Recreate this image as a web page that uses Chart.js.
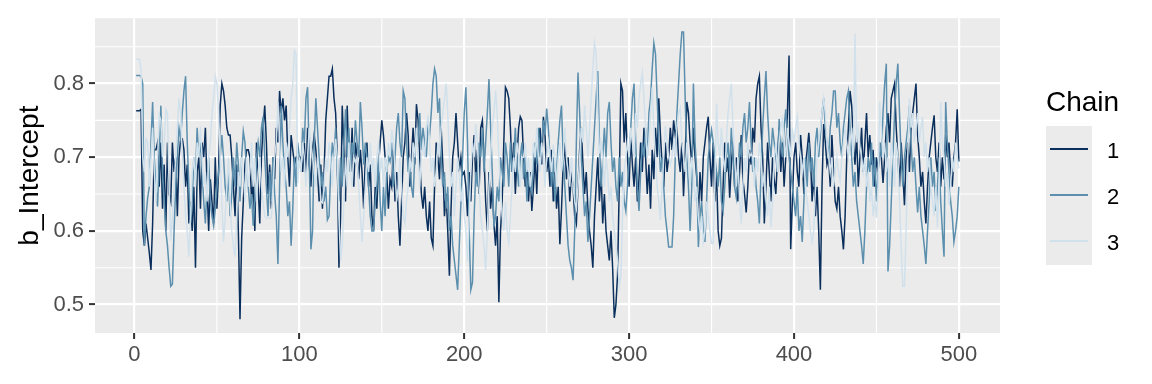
<!DOCTYPE html>
<html>
<head>
<meta charset="utf-8">
<script src="https://cdn.jsdelivr.net/npm/chart.js@4"></script>
<style>
  html, body { margin: 0; padding: 0; background: #ffffff; }
  #wrap { position: relative; width: 1152px; height: 384px; overflow: hidden; font-family: "Liberation Sans", Arial, sans-serif; }
  #c { position: absolute; left: 0; top: 0; }
  .lg { position: absolute; line-height: 1; white-space: nowrap; }
</style>
</head>
<body>
<div id="wrap">
  <canvas id="c" width="1152" height="384"></canvas>
  <div class="lg" style="left:1046px; top:88px; font-size:28px; color:#000;">Chain</div>
  <div class="lg" style="left:1046px; top:126px; width:46px; height:139px; background:#ebebeb;"></div>
  <div class="lg" id="k1" style="left:1050px; top:148px; width:38px; height:2px;"></div>
  <div class="lg" id="k2" style="left:1050px; top:194px; width:38px; height:2px;"></div>
  <div class="lg" id="k3" style="left:1050px; top:240px; width:38px; height:2px;"></div>
  <div class="lg" style="left:1107px; top:140px; font-size:22px; color:#000;">1</div>
  <div class="lg" style="left:1107px; top:186px; font-size:22px; color:#000;">2</div>
  <div class="lg" style="left:1107px; top:232px; font-size:22px; color:#000;">3</div>
</div>
<script>
// ---------- data ----------
const chainNames = ["1", "2", "3"];
const chainColors = ["#0a2f5c", "#5b8fad", "#d1e1ec"];
const xTicks = [0, 100, 200, 300, 400, 500];
const yTicks = [0.5, 0.6, 0.7, 0.8];
const xMinorTicks = [50, 150, 250, 350, 450];
const yMinorTicks = [0.55, 0.65, 0.75, 0.85];

const chain1 = [
0.763,0.763,0.763,0.765,0.60,0.58,0.61,0.59,0.57,0.547,0.61,0.71,0.71,0.72,0.66,0.72,0.63,0.69,0.60,0.72,0.65,0.64,0.72,0.68,0.70,
0.62,0.70,0.725,0.725,0.71,0.66,0.69,0.61,0.64,0.60,0.66,0.55,0.68,0.70,0.63,0.72,0.70,0.74,0.66,0.60,0.67,0.64,0.61,0.70,0.63,
0.68,0.77,0.80,0.79,0.77,0.74,0.73,0.73,0.70,0.66,0.62,0.69,0.60,0.48,0.59,0.64,0.69,0.71,0.71,0.70,0.64,0.67,0.60,0.72,0.66,
0.61,0.70,0.74,0.77,0.72,0.65,0.69,0.63,0.70,0.67,0.74,0.72,0.79,0.76,0.78,0.75,0.77,0.70,0.66,0.73,0.71,0.69,0.70,0.70,0.695,
0.70,0.68,0.72,0.67,0.74,0.69,0.66,0.71,0.73,0.71,0.68,0.64,0.69,0.63,0.68,0.75,0.78,0.81,0.81,0.82,0.78,0.76,0.70,0.55,0.62,
0.77,0.71,0.64,0.77,0.70,0.68,0.74,0.66,0.72,0.70,0.67,0.71,0.68,0.63,0.70,0.72,0.66,0.69,0.62,0.60,0.66,0.63,0.69,0.72,0.75,
0.73,0.70,0.68,0.63,0.67,0.66,0.71,0.64,0.68,0.62,0.58,0.64,0.70,0.72,0.76,0.73,0.66,0.70,0.74,0.69,0.772,0.75,0.70,0.65,0.63,
0.66,0.62,0.60,0.64,0.59,0.58,0.66,0.72,0.70,0.67,0.74,0.69,0.62,0.65,0.60,0.539,0.63,0.70,0.72,0.76,0.72,0.68,0.70,0.676,0.68,
0.66,0.62,0.68,0.64,0.70,0.73,0.67,0.71,0.65,0.74,0.75,0.70,0.64,0.60,0.68,0.63,0.66,0.61,0.58,0.62,0.503,0.60,0.64,0.72,0.795,
0.79,0.78,0.74,0.68,0.72,0.65,0.70,0.74,0.755,0.75,0.70,0.66,0.69,0.64,0.68,0.627,0.66,0.70,0.65,0.72,0.74,0.69,0.755,0.73,0.68,
0.70,0.66,0.71,0.64,0.68,0.63,0.66,0.582,0.63,0.69,0.72,0.67,0.70,0.64,0.68,0.66,0.62,0.61,0.66,0.71,0.74,0.69,0.65,0.68,0.63,
0.60,0.58,0.55,0.62,0.66,0.70,0.64,0.68,0.61,0.65,0.60,0.58,0.56,0.60,0.55,0.482,0.50,0.54,0.66,0.80,0.79,0.72,0.76,0.70,0.66,
0.73,0.69,0.66,0.70,0.64,0.67,0.72,0.68,0.74,0.70,0.65,0.69,0.63,0.71,0.67,0.74,0.70,0.78,0.73,0.69,0.66,0.72,0.68,0.70,0.74,
0.71,0.75,0.73,0.74,0.70,0.68,0.72,0.647,0.70,0.775,0.76,0.72,0.69,0.74,0.70,0.673,0.62,0.68,0.64,0.70,0.72,0.74,0.755,0.70,0.66,
0.72,0.64,0.68,0.60,0.58,0.59,0.66,0.72,0.68,0.70,0.645,0.69,0.72,0.66,0.70,0.64,0.68,0.73,0.67,0.65,0.625,0.66,0.71,0.69,0.74,
0.72,0.78,0.80,0.81,0.74,0.70,0.61,0.66,0.72,0.68,0.64,0.70,0.67,0.65,0.70,0.74,0.68,0.72,0.66,0.70,0.76,0.838,0.575,0.64,0.70,
0.72,0.68,0.66,0.73,0.70,0.65,0.69,0.71,0.733,0.70,0.64,0.68,0.62,0.66,0.60,0.52,0.66,0.745,0.72,0.69,0.70,0.66,0.73,0.68,0.64,
0.63,0.66,0.62,0.60,0.575,0.62,0.70,0.74,0.79,0.77,0.72,0.69,0.73,0.66,0.70,0.74,0.68,0.72,0.76,0.70,0.73,0.69,0.71,0.66,0.70,
0.68,0.72,0.70,0.665,0.70,0.74,0.76,0.72,0.78,0.79,0.80,0.74,0.70,0.66,0.72,0.68,0.635,0.70,0.72,0.68,0.74,0.76,0.78,0.80,0.73,
0.70,0.66,0.68,0.64,0.61,0.66,0.70,0.72,0.74,0.757,0.70,0.68,0.72,0.66,0.70,0.67,0.73,0.70,0.72,0.68,0.66,0.70,0.72,0.765,0.694
];

const chain2 = [
0.811,0.811,0.811,0.81,0.80,0.58,0.62,0.645,0.66,0.72,0.775,0.70,0.66,0.633,0.70,0.77,0.68,0.64,0.60,0.58,0.55,0.525,0.528,0.60,0.66,
0.70,0.74,0.725,0.76,0.79,0.81,0.72,0.66,0.61,0.64,0.70,0.67,0.74,0.70,0.72,0.68,0.64,0.61,0.66,0.70,0.64,0.62,0.607,0.63,0.66,
0.68,0.70,0.73,0.70,0.66,0.64,0.68,0.62,0.65,0.70,0.66,0.72,0.69,0.64,0.70,0.735,0.72,0.68,0.66,0.63,0.65,0.607,0.64,0.70,0.72,
0.70,0.74,0.755,0.70,0.66,0.62,0.68,0.64,0.70,0.65,0.62,0.555,0.66,0.77,0.72,0.68,0.66,0.62,0.64,0.58,0.63,0.70,0.66,0.72,0.70,
0.68,0.74,0.72,0.78,0.795,0.70,0.575,0.60,0.72,0.78,0.74,0.70,0.66,0.68,0.64,0.66,0.615,0.62,0.68,0.72,0.70,0.74,0.68,0.64,0.70,
0.66,0.72,0.765,0.70,0.74,0.68,0.72,0.70,0.75,0.72,0.70,0.775,0.74,0.69,0.72,0.70,0.66,0.62,0.60,0.60,0.64,0.66,0.70,0.64,0.60,
0.66,0.62,0.68,0.70,0.694,0.72,0.66,0.70,0.74,0.76,0.72,0.70,0.79,0.78,0.72,0.68,0.70,0.66,0.645,0.70,0.74,0.72,0.76,0.71,0.74,
0.72,0.70,0.74,0.73,0.76,0.80,0.82,0.81,0.76,0.78,0.70,0.66,0.68,0.63,0.66,0.60,0.62,0.58,0.56,0.54,0.52,0.58,0.64,0.70,0.76,
0.795,0.72,0.60,0.52,0.53,0.62,0.68,0.66,0.72,0.70,0.74,0.68,0.72,0.76,0.806,0.74,0.68,0.605,0.62,0.66,0.64,0.70,0.68,0.66,0.72,
0.70,0.66,0.72,0.68,0.70,0.74,0.69,0.66,0.70,0.72,0.67,0.70,0.64,0.68,0.66,0.652,0.70,0.72,0.69,0.74,0.70,0.72,0.75,0.73,0.766,
0.74,0.70,0.66,0.70,0.64,0.68,0.72,0.75,0.77,0.70,0.66,0.62,0.58,0.56,0.55,0.533,0.60,0.72,0.815,0.76,0.70,0.66,0.62,0.64,0.585,
0.62,0.66,0.70,0.74,0.78,0.817,0.72,0.66,0.70,0.74,0.70,0.76,0.775,0.72,0.68,0.70,0.66,0.64,0.70,0.66,0.68,0.64,0.627,0.66,0.70,
0.74,0.78,0.80,0.72,0.66,0.627,0.68,0.72,0.70,0.74,0.70,0.76,0.78,0.82,0.855,0.84,0.78,0.72,0.68,0.70,0.66,0.62,0.60,0.578,0.578,
0.578,0.62,0.70,0.76,0.80,0.84,0.87,0.87,0.78,0.70,0.66,0.60,0.66,0.80,0.72,0.68,0.578,0.62,0.64,0.60,0.585,0.64,0.70,0.72,0.737,
0.72,0.70,0.68,0.66,0.70,0.64,0.627,0.66,0.70,0.72,0.68,0.74,0.70,0.66,0.645,0.68,0.72,0.70,0.74,0.76,0.72,0.74,0.775,0.72,0.68,
0.70,0.66,0.64,0.61,0.68,0.74,0.78,0.817,0.76,0.72,0.70,0.74,0.72,0.70,0.68,0.752,0.72,0.70,0.74,0.765,0.73,0.70,0.68,0.66,0.64,
0.62,0.66,0.60,0.62,0.585,0.64,0.70,0.66,0.72,0.68,0.70,0.66,0.72,0.74,0.70,0.73,0.76,0.78,0.74,0.72,0.70,0.74,0.76,0.79,0.79,
0.74,0.76,0.72,0.70,0.74,0.76,0.78,0.79,0.74,0.70,0.66,0.68,0.64,0.62,0.60,0.58,0.555,0.60,0.66,0.70,0.68,0.72,0.66,0.70,0.64,
0.68,0.72,0.70,0.76,0.80,0.827,0.545,0.58,0.64,0.70,0.76,0.80,0.827,0.76,0.70,0.66,0.70,0.72,0.74,0.77,0.72,0.68,0.70,0.66,0.625,
0.66,0.62,0.60,0.58,0.555,0.60,0.64,0.70,0.66,0.68,0.627,0.66,0.70,0.64,0.60,0.565,0.775,0.72,0.68,0.64,0.62,0.585,0.60,0.62,0.66
];

const chain3 = [
0.833,0.833,0.833,0.82,0.70,0.68,0.725,0.72,0.66,0.70,0.74,0.68,0.64,0.70,0.757,0.75,0.70,0.72,0.765,0.76,0.66,0.587,0.62,0.66,0.70,
0.74,0.78,0.76,0.70,0.66,0.62,0.60,0.565,0.62,0.68,0.70,0.66,0.72,0.70,0.742,0.70,0.66,0.68,0.64,0.70,0.72,0.76,0.78,0.81,0.80,
0.76,0.70,0.64,0.585,0.62,0.66,0.70,0.64,0.60,0.58,0.565,0.62,0.68,0.66,0.70,0.68,0.64,0.70,0.66,0.68,0.72,0.66,0.70,0.64,0.68,
0.70,0.66,0.64,0.62,0.617,0.617,0.617,0.618,0.66,0.70,0.72,0.775,0.72,0.68,0.70,0.66,0.72,0.70,0.74,0.78,0.80,0.845,0.84,0.665,0.70,
0.68,0.72,0.70,0.66,0.70,0.74,0.72,0.70,0.68,0.66,0.70,0.68,0.64,0.638,0.66,0.70,0.68,0.72,0.70,0.66,0.70,0.725,0.70,0.62,0.56,
0.58,0.64,0.70,0.66,0.72,0.68,0.66,0.70,0.693,0.70,0.66,0.62,0.585,0.62,0.66,0.70,0.68,0.72,0.68,0.70,0.66,0.70,0.72,0.68,0.70,
0.66,0.70,0.68,0.72,0.70,0.737,0.72,0.68,0.64,0.66,0.70,0.66,0.62,0.61,0.64,0.66,0.70,0.68,0.72,0.70,0.74,0.70,0.66,0.70,0.72,
0.70,0.74,0.757,0.72,0.68,0.70,0.66,0.68,0.72,0.70,0.74,0.76,0.78,0.80,0.76,0.70,0.66,0.68,0.62,0.66,0.70,0.68,0.64,0.66,0.62,
0.60,0.558,0.62,0.68,0.72,0.70,0.745,0.72,0.66,0.62,0.60,0.58,0.547,0.60,0.66,0.70,0.74,0.76,0.79,0.76,0.70,0.66,0.62,0.60,0.64,
0.60,0.585,0.62,0.66,0.70,0.68,0.72,0.70,0.66,0.70,0.70,0.72,0.68,0.70,0.66,0.68,0.72,0.70,0.74,0.70,0.68,0.72,0.70,0.66,0.70,
0.72,0.70,0.68,0.717,0.70,0.66,0.70,0.72,0.68,0.70,0.74,0.70,0.68,0.66,0.70,0.66,0.64,0.63,0.66,0.70,0.74,0.72,0.77,0.74,0.70,
0.74,0.78,0.82,0.855,0.84,0.76,0.705,0.72,0.70,0.66,0.70,0.68,0.64,0.66,0.62,0.60,0.58,0.56,0.525,0.54,0.62,0.68,0.70,0.72,0.70,
0.74,0.72,0.70,0.76,0.74,0.78,0.80,0.815,0.78,0.74,0.70,0.72,0.76,0.795,0.74,0.70,0.66,0.64,0.615,0.66,0.70,0.742,0.72,0.70,0.69,
0.70,0.72,0.70,0.74,0.76,0.767,0.72,0.70,0.68,0.72,0.70,0.66,0.70,0.68,0.64,0.66,0.62,0.60,0.62,0.585,0.60,0.64,0.62,0.60,0.583,
0.583,0.66,0.773,0.72,0.70,0.74,0.70,0.68,0.72,0.76,0.78,0.80,0.74,0.70,0.66,0.70,0.64,0.61,0.66,0.70,0.68,0.72,0.70,0.705,0.70,
0.66,0.70,0.68,0.72,0.70,0.66,0.68,0.64,0.62,0.66,0.605,0.64,0.70,0.72,0.68,0.72,0.74,0.752,0.72,0.70,0.74,0.72,0.70,0.74,0.72,
0.74,0.755,0.72,0.70,0.68,0.70,0.66,0.64,0.62,0.60,0.585,0.60,0.66,0.70,0.72,0.74,0.76,0.78,0.76,0.72,0.70,0.68,0.70,0.66,0.68,
0.70,0.68,0.667,0.70,0.72,0.74,0.72,0.70,0.72,0.74,0.70,0.868,0.72,0.74,0.715,0.70,0.68,0.70,0.66,0.68,0.64,0.66,0.62,0.64,0.618,
0.66,0.775,0.74,0.70,0.72,0.68,0.70,0.66,0.72,0.70,0.66,0.72,0.70,0.64,0.58,0.525,0.525,0.60,0.70,0.78,0.74,0.76,0.72,0.74,0.76,
0.72,0.74,0.755,0.70,0.72,0.68,0.70,0.66,0.64,0.62,0.66,0.605,0.66,0.775,0.72,0.70,0.66,0.68,0.635,0.66,0.70,0.68,0.72,0.70,0.685
];

const chains = [chain1, chain2, chain3];

// legend key colours
chainColors.forEach((c, i) => { document.getElementById('k' + (i + 1)).style.background = c; });

const FONT = "'Liberation Sans', Arial, sans-serif";

const panelPlugin = {
  id: 'panel',
  beforeDraw(chart) {
    const { ctx, chartArea: a, scales: { x, y } } = chart;
    ctx.save();
    ctx.fillStyle = '#ebebeb';
    ctx.fillRect(a.left, a.top, a.right - a.left, a.bottom - a.top);
    ctx.strokeStyle = '#ffffff';
    ctx.lineWidth = 1.1;
    xMinorTicks.forEach(v => {
      const px = x.getPixelForValue(v);
      ctx.beginPath(); ctx.moveTo(px, a.top); ctx.lineTo(px, a.bottom); ctx.stroke();
    });
    yMinorTicks.forEach(v => {
      const py = y.getPixelForValue(v);
      if (py < a.top || py > a.bottom) return;
      ctx.beginPath(); ctx.moveTo(a.left, py); ctx.lineTo(a.right, py); ctx.stroke();
    });
    ctx.restore();
  }
};

new Chart(document.getElementById('c'), {
  type: 'line',
  data: {
    datasets: chains.map((arr, i) => ({
      label: chainNames[i],
      data: arr.map((v, j) => ({ x: j + 1, y: v })),
      borderColor: chainColors[i],
      borderWidth: 1.5,
      pointRadius: 0,
      tension: 0,
      fill: false,
      order: 3 - i
    }))
  },
  options: {
    responsive: false,
    animation: false,
    devicePixelRatio: 1,
    parsing: true,
    layout: { padding: { top: 15, right: 152, left: 0, bottom: 0 } },
    plugins: { legend: { display: false }, tooltip: { enabled: false } },
    scales: {
      x: {
        type: 'linear',
        min: -23.95,
        max: 524.95,
        afterBuildTicks: s => { s.ticks = xTicks.map(v => ({ value: v })); },
        afterFit: s => { s.height = 51; },
        ticks: { color: '#4d4d4d', font: { size: 22, family: FONT }, padding: 3, maxRotation: 0, autoSkip: false,
                 callback: v => String(v) },
        grid: { color: '#ffffff', lineWidth: 2.2, tickColor: '#333333', tickLength: 6, tickWidth: 2 },
        border: { display: false }
      },
      y: {
        type: 'linear',
        min: 0.4614,
        max: 0.8887,
        afterBuildTicks: s => { s.ticks = yTicks.map(v => ({ value: v })); },
        afterFit: s => { s.width = 95; },
        ticks: { color: '#4d4d4d', font: { size: 22, family: FONT }, padding: 5, autoSkip: false,
                 callback: v => Number(v).toFixed(1) },
        grid: { color: '#ffffff', lineWidth: 2.2, tickColor: '#333333', tickLength: 6, tickWidth: 2 },
        border: { display: false },
        title: { display: true, text: 'b_Intercept', color: '#000000', font: { size: 28, family: FONT }, padding: { top: 13, bottom: 0 } }
      }
    }
  },
  plugins: [panelPlugin]
});
</script>
</body>
</html>
